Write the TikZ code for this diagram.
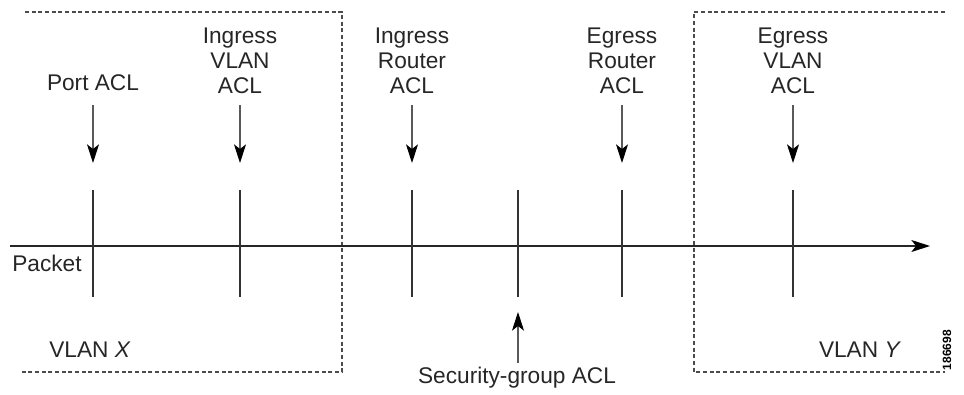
\documentclass[tikz,border=0pt]{standalone}
\usepackage{fontspec}
\setmainfont{Liberation Sans}
\usepackage{tikz}
\usetikzlibrary{calc}
\usetikzlibrary{arrows.meta,shapes}

\tikzset{
  vlanbox/.style={draw=black!70, line width=0.9pt, dash pattern=on 3pt off 2pt},
  acl/.style={align=center, inner sep=0pt, text=black!85},
  tick/.style={draw=black!80, line width=0.8pt},
  aclarrow/.style={draw=black!65, line width=0.8pt, -{Stealth[length=14pt,width=9pt,inset=3.5pt,black]}},
  flow/.style={draw=black!85, line width=0.9pt, -{Stealth[length=14pt,width=9pt,inset=3.5pt,black]}}
}

\begin{document}
\begin{tikzpicture}[font=\fontsize{17}{18.75}\selectfont]

\begin{scope}[x=0.75pt,y=-0.75pt]
  \useasboundingbox (0,0) rectangle (964,394);

  % the two VLANs
  \draw[vlanbox] (25,12) -- (342,12) -- (342,372) -- (22,372);
  \draw[vlanbox] (945,12) -- (694,12) -- (694,372) -- (945,372);

  \node[acl] (vlanx) at (90,350) {VLAN \textit{X}};
  \node[acl] (vlany) at (860,350) {VLAN \textit{Y}};

  % packet path
  \coordinate (pin) at (10,246);
  \coordinate (pout) at (930,246);
  \draw[flow] (pin) -- (pout);
  \node[acl] (packet) at (47,263) {Packet};

  % ACL labels
  \node[acl] (portacl) at (93,83) {Port ACL};
  \node[acl] (invacl) at (240,61) {Ingress\\VLAN\\ACL};
  \node[acl] (inracl) at (412,61) {Ingress\\Router\\ACL};
  \node[acl] (egracl) at (622,61) {Egress\\Router\\ACL};
  \node[acl] (egvacl) at (793,61) {Egress\\VLAN\\ACL};
  \node[acl] (sgacl) at (517,378) {Security-group ACL};

  % arrow ends
  \coordinate (a1) at (93,105);  \coordinate (a1t) at (93,163);
  \coordinate (a2) at (240,105); \coordinate (a2t) at (240,163);
  \coordinate (a3) at (412,105); \coordinate (a3t) at (412,163);
  \coordinate (a4) at (622,105); \coordinate (a4t) at (622,163);
  \coordinate (a5) at (793,105); \coordinate (a5t) at (793,163);
  \coordinate (a6) at (518,363); \coordinate (a6t) at (518,312);

  \draw[aclarrow] (a1) -- (a1t);
  \draw[aclarrow] (a2) -- (a2t);
  \draw[aclarrow] (a3) -- (a3t);
  \draw[aclarrow] (a4) -- (a4t);
  \draw[aclarrow] (a5) -- (a5t);
  \draw[aclarrow] (a6) -- (a6t);

  % check points on the path
  \draw[tick] (93,190) -- (93,297);
  \draw[tick] (240,190) -- (240,297);
  \draw[tick] (412,190) -- (412,297);
  \draw[tick] (518,190) -- (518,297);
  \draw[tick] (622,190) -- (622,297);
  \draw[tick] (793,190) -- (793,297);

  \node[rotate=90, inner sep=0pt, font=\fontsize{9}{10}\bfseries] (figno) at (947,350) {186698};
\end{scope}

\end{tikzpicture}
\end{document}
